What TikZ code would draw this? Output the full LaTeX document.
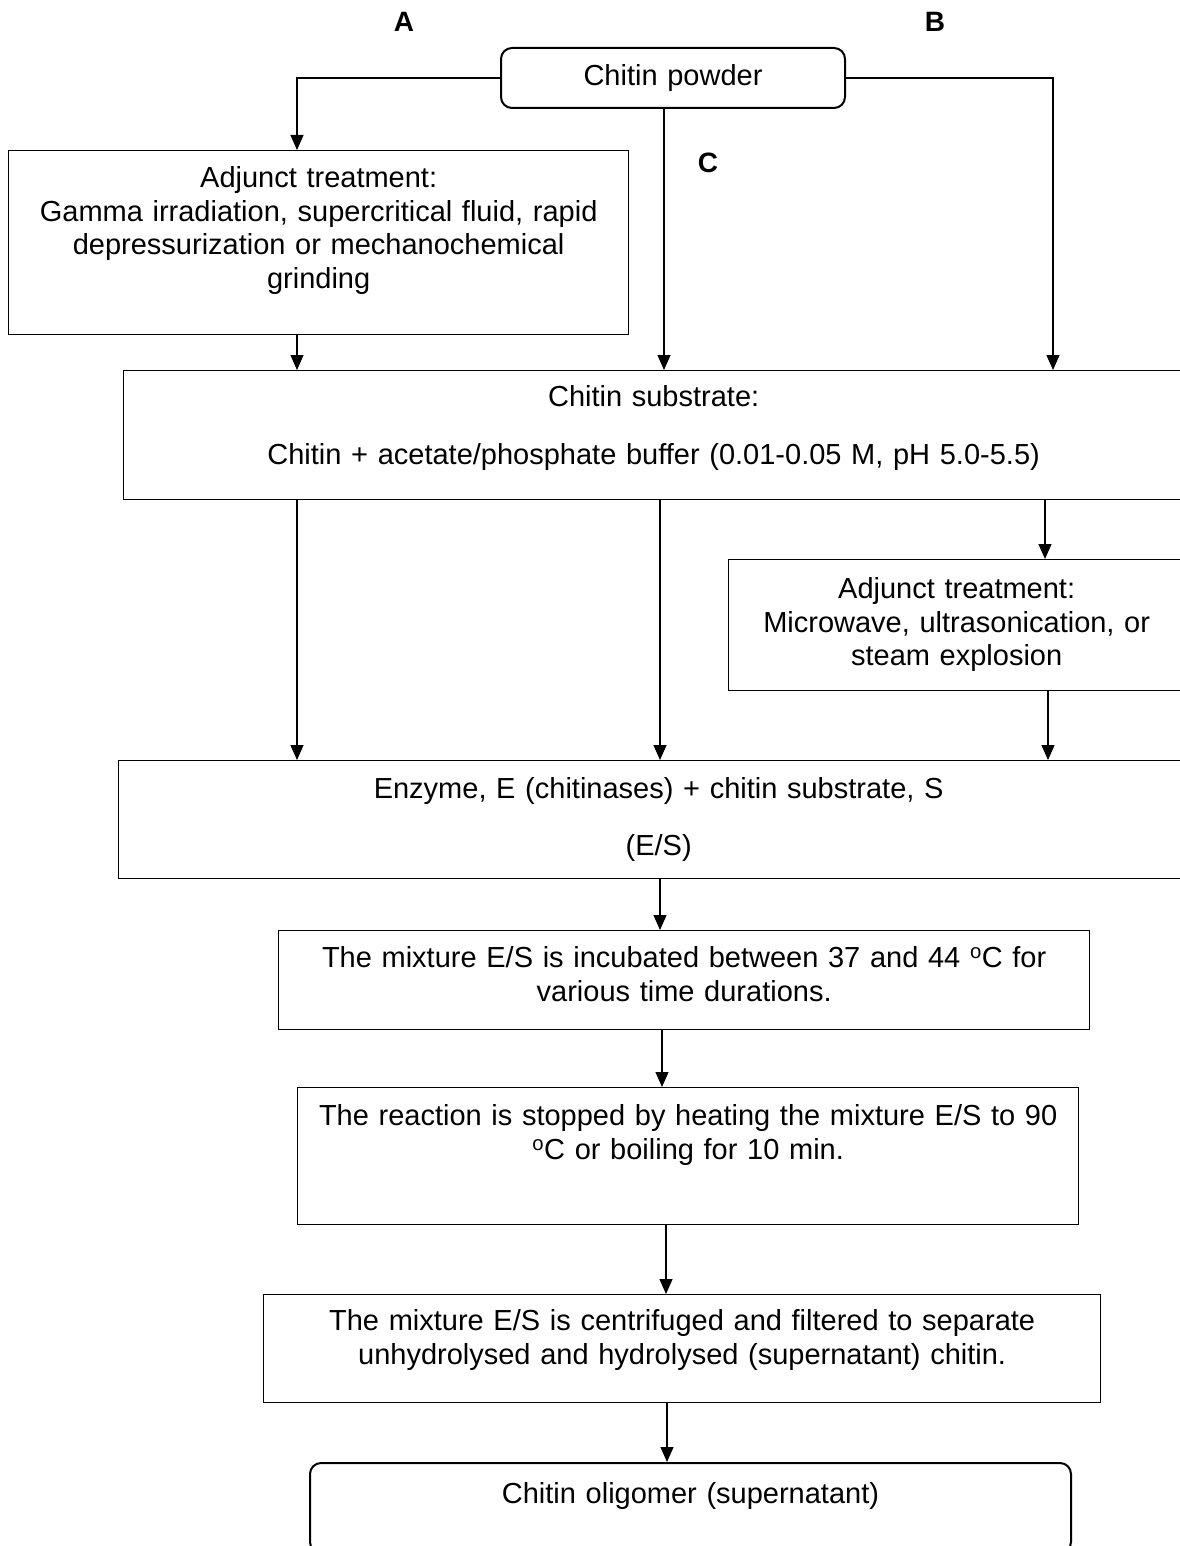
\documentclass[tikz,border=0pt]{standalone}
\usepackage{fontspec}
\setmainfont{Liberation Sans}
\usetikzlibrary{arrows.meta}

\begin{document}
\begin{tikzpicture}[x=1pt,y=-1pt,
    stepbox/.style={draw=black, line width=1.3pt, inner sep=0pt, anchor=north west,
        align=center, font=\fontsize{29}{33.5}\selectfont},
    endbox/.style={stepbox, rounded corners=11pt, line width=2pt},
    letter/.style={font=\fontsize{28}{32}\selectfont\bfseries},
    arr/.style={black, line width=1.2pt, -{Triangle[length=15pt,width=13pt]}}]
    \useasboundingbox (0,0) rectangle (1179,1546);

    % routes
    \node[letter] (labA) at (404,22) {A};
    \node[letter] (labB) at (935,22) {B};
    \node[letter] (labC) at (708,163) {C};

    % boxes
    \node[endbox, text width=344pt, text height=38pt, text depth=22pt] (pow) at (500,47) {Chitin powder};
    \node[stepbox, text width=620pt, text height=37pt, text depth=147pt] (adjA) at (8,150)
        {Adjunct treatment:\\Gamma irradiation, supercritical fluid, rapid\\depressurization or mechanochemical\\grinding};
    \node[stepbox, text width=1060pt, text height=36pt, text depth=93pt] (sub) at (123,370)
        {Chitin substrate:\\[24.5pt]Chitin + acetate/phosphate buffer (0.01-0.05 M, pH 5.0-5.5)};
    \node[stepbox, text width=456pt, text height=39pt, text depth=92pt] (adjB) at (728,559)
        {Adjunct treatment:\\Microwave, ultrasonication, or\\steam explosion};
    \node[stepbox, text width=1080pt, text height=38pt, text depth=80pt] (es) at (118,760)
        {Enzyme, E (chitinases) + chitin substrate, S\\[23.5pt](E/S)};
    \node[stepbox, text width=811pt, text height=37pt, text depth=62pt] (inc) at (278,930)
        {The mixture E/S is incubated between 37 and 44 \textsuperscript{o}C for\\various time durations.};
    \node[stepbox, text width=781pt, text height=38pt, text depth=99pt] (stop) at (297,1087)
        {The reaction is stopped by heating the mixture E/S to 90\\\textsuperscript{o}C or boiling for 10 min.};
    \node[stepbox, text width=837pt, text height=36pt, text depth=72pt] (cen) at (263,1294)
        {The mixture E/S is centrifuged and filtered to separate\\unhydrolysed and hydrolysed (supernatant) chitin.};
    \node[endbox, text width=761pt, text height=40pt, text depth=50pt] (olig) at (309,1462)
        {Chitin oligomer (supernatant)};

    % connectors
    \coordinate (mid) at ([xshift=-9pt]pow.south);
    \draw[arr] (pow.west) -| ([xshift=289pt]adjA.north west);
    \draw[arr] (mid) -- (mid |- sub.north);
    \draw[arr] (pow.east) -| ([xshift=930pt]sub.north west);
    \draw[arr] ([xshift=289pt]adjA.south west) -- ([xshift=174pt]sub.north west);
    \draw[arr] ([xshift=174pt]sub.south west) -- ([xshift=179pt]es.north west);
    \draw[arr] ([xshift=537pt]sub.south west) -- ([xshift=542pt]es.north west);
    \draw[arr] ([xshift=922pt]sub.south west) -- ([xshift=317pt]adjB.north west);
    \draw[arr] ([xshift=320pt]adjB.south west) -- ([xshift=930pt]es.north west);
    \draw[arr] ([xshift=542pt]es.south west) -- ([xshift=382pt]inc.north west);
    \draw[arr] ([xshift=384pt]inc.south west) -- ([xshift=365pt]stop.north west);
    \draw[arr] ([xshift=369pt]stop.south west) -- ([xshift=403pt]cen.north west);
    \draw[arr] ([xshift=404pt]cen.south west) -- ([xshift=358pt]olig.north west);
\end{tikzpicture}
\end{document}
